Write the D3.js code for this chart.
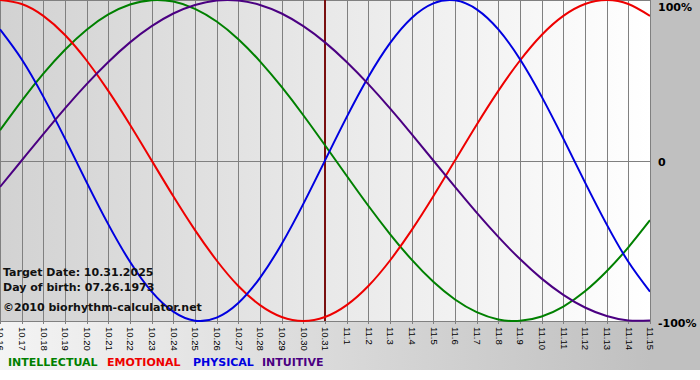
<!DOCTYPE html>
<html>
<head>
<meta charset="utf-8">
<script src="https://cdn.jsdelivr.net/npm/d3@7"></script>
<style>
  body { margin: 0; background: #ffffff; }
  svg { display: block; }
</style>
</head>
<body>
<div id="bio-chart"></div>
<script>
// Data

    // day labels, 10.16 -> 11.15
    var days = ["10.16","10.17","10.18","10.19","10.20","10.21","10.22","10.23","10.24","10.25",
                "10.26","10.27","10.28","10.29","10.30","10.31","11.1","11.2","11.3","11.4",
                "11.5","11.6","11.7","11.8","11.9","11.10","11.11","11.12","11.13","11.14","11.15"];

    var intellectual = [0.189,0.372,0.541,0.690,0.815,0.910,0.972,0.999,0.990,0.945,0.866,0.756,0.618,0.458,0.282,0.095,
                        -0.095,-0.282,-0.458,-0.618,-0.756,-0.866,-0.945,-0.990,-0.999,-0.972,-0.910,-0.815,-0.690,-0.541,-0.372];
    var emotional    = [1.000,0.975,0.901,0.782,0.623,0.434,0.223,0.000,-0.223,-0.434,-0.623,-0.782,-0.901,-0.975,-1.000,-0.975,
                        -0.901,-0.782,-0.623,-0.434,-0.223,0.000,0.223,0.434,0.623,0.782,0.901,0.975,1.000,0.975,0.901];
    var physical     = [0.817,0.631,0.398,0.136,-0.136,-0.398,-0.631,-0.817,-0.942,-0.998,-0.979,-0.888,-0.731,-0.520,-0.270,0.000,
                        0.270,0.520,0.731,0.888,0.979,0.998,0.942,0.817,0.631,0.398,0.136,-0.136,-0.398,-0.631,-0.817];
    var intuitive    = [-0.165,0.000,0.165,0.325,0.476,0.614,0.736,0.837,0.916,0.969,0.997,0.997,0.969,0.916,0.837,0.736,
                        0.614,0.476,0.325,0.165,0.000,-0.165,-0.325,-0.476,-0.614,-0.736,-0.837,-0.916,-0.969,-0.997,-0.997];

    var targetDay = "10.31";
    var infoLines = ["Target Date: 10.31.2025", "Day of birth: 07.26.1973"];
    var creditLine = "\u00a92010 biorhythm-calculator.net";
    var yLabels = [{ v: 1, t: "100%" }, { v: 0, t: "0" }, { v: -1, t: "-100%" }];

    var series = [
        { name: "INTELLECTUAL", values: intellectual, color: "#008000" },
        { name: "EMOTIONAL",    values: emotional,    color: "#ee0000" },
        { name: "PHYSICAL",     values: physical,     color: "#0000e0" },
        { name: "INTUITIVE",    values: intuitive,    color: "#4b0082" }
    ];
    var legendX = [8, 107, 193, 262];

// dimensions
    var svgWidth = 700, svgHeight = 380;
    var plot = { left: 0, right: 650, top: 0, bottom: 321 };

    var svg = d3.select("#bio-chart")
        .append("svg")
            .attr("width", svgWidth)
            .attr("height", svgHeight)
            .style("font-family", "'DejaVu Sans', Verdana, sans-serif");

    // gradients
    var defs = svg.append("defs");
    var bgGrad = defs.append("linearGradient").attr("id", "bgGrad");
    bgGrad.append("stop").attr("offset", "0%").attr("stop-color", "#f4f4f4");
    bgGrad.append("stop").attr("offset", "93%").attr("stop-color", "#c0c0c0");
    bgGrad.append("stop").attr("offset", "100%").attr("stop-color", "#c0c0c0");

    var plotGrad = defs.append("linearGradient").attr("id", "plotGrad");
    plotGrad.append("stop").attr("offset", "0%").attr("stop-color", "#d2d2d2");
    plotGrad.append("stop").attr("offset", "100%").attr("stop-color", "#ffffff");

    defs.append("clipPath").attr("id", "plotClip")
        .append("rect")
            .attr("x", plot.left).attr("y", plot.top)
            .attr("width", plot.right - plot.left).attr("height", plot.bottom - plot.top + 1);

    svg.append("rect")
        .attr("width", svgWidth).attr("height", 370)
        .attr("fill", "url(#bgGrad)");

    svg.append("rect")
        .attr("x", plot.left).attr("y", plot.top)
        .attr("width", plot.right - plot.left).attr("height", plot.bottom - plot.top)
        .attr("fill", "url(#plotGrad)");

// scales
    var x = d3.scalePoint().domain(days).range([plot.left, plot.right]);
    var y = d3.scaleLinear().domain([-1, 1]).range([plot.bottom, plot.top]);

    // vertical grid + ticks
    var xAxis = d3.axisBottom(x).tickSize(plot.bottom - plot.top + 3).tickPadding(4);
    var gx = svg.append("g")
        .attr("transform", "translate(0," + plot.top + ")")
        .call(xAxis);
    gx.select(".domain").remove();
    gx.selectAll(".tick line")
        .attr("stroke", "#808080")
        .attr("stroke-width", 1)
        .attr("shape-rendering", "crispEdges");
    gx.selectAll(".tick text")
        .attr("fill", "#000")
        .style("font-family", "'Liberation Sans', Arial, sans-serif")
        .style("font-size", "9.5px")
        .attr("transform", function() { return "translate(0," + (plot.bottom + 6) + ") rotate(90)"; })
        .attr("x", 0).attr("y", 0)
        .attr("dy", "0.35em")
        .attr("text-anchor", "start");

    // horizontal lines at 100, 0, -100
    svg.append("g").selectAll("line")
        .data(yLabels)
        .enter().append("line")
            .attr("x1", plot.left).attr("x2", plot.right)
            .attr("y1", function(d) { return Math.round(y(d.v)) + 0.5; })
            .attr("y2", function(d) { return Math.round(y(d.v)) + 0.5; })
            .attr("stroke", "#808080");

    svg.append("line")
        .attr("x1", plot.right + 0.5).attr("x2", plot.right + 0.5)
        .attr("y1", plot.top).attr("y2", plot.bottom)
        .attr("stroke", "#808080");

    // target date marker
    svg.append("line")
        .attr("x1", x(targetDay)).attr("x2", x(targetDay))
        .attr("y1", plot.top).attr("y2", plot.bottom)
        .attr("stroke", "#7a1010")
        .attr("stroke-width", 2);

    // curves
    var line = d3.line()
        .x(function(d, i) { return x(days[i]); })
        .y(function(d) { return y(d); })
        .curve(d3.curveNatural);

    svg.append("g")
        .attr("clip-path", "url(#plotClip)")
        .selectAll("path")
        .data(series)
        .enter().append("path")
            .attr("d", function(d) { return line(d.values); })
            .attr("fill", "none")
            .attr("stroke", function(d) { return d.color; })
            .attr("stroke-width", 2);

    // y labels on the right
    svg.append("g").selectAll("text")
        .data(yLabels)
        .enter().append("text")
            .attr("x", 658)
            .attr("y", function(d) { return d.v === 1 ? 11 : y(d.v) + 5.5; })
            .attr("fill", "#000")
            .style("font-size", "11px")
            .style("font-weight", "bold")
            .text(function(d) { return d.t; });

    // info text
    svg.append("g").selectAll("text")
        .data(infoLines)
        .enter().append("text")
            .attr("x", 3)
            .attr("y", function(d, i) { return 276 + i * 15; })
            .attr("fill", "#111")
            .style("font-size", "11px")
            .style("font-weight", "bold")
            .text(function(d) { return d; });

    svg.append("text")
        .attr("x", 3).attr("y", 311)
        .attr("fill", "#111")
        .style("font-size", "11px")
        .style("font-weight", "bold")
        .text(creditLine);

    // legend
    svg.append("g").selectAll("text")
        .data(series)
        .enter().append("text")
            .attr("x", function(d, i) { return legendX[i]; })
            .attr("y", 366)
            .attr("fill", function(d) { return d.color; })
            .style("font-size", "11px")
            .style("font-weight", "bold")
            .text(function(d) { return d.name; });
</script>
</body>
</html>
